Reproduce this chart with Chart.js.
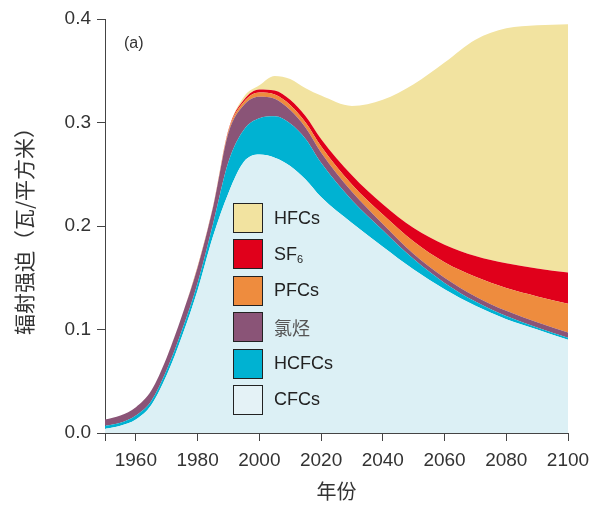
<!DOCTYPE html>
<html>
<head>
<meta charset="utf-8">
<script src="https://cdn.jsdelivr.net/npm/chart.js@4.4.1/dist/chart.umd.min.js"></script>
<style>
  body { margin: 0; background: #fff; }
  #wrap { position: relative; width: 592px; height: 507px; }
  .tag { position: absolute; left: 124px; top: 34px; font: 16px "Liberation Sans", Arial, sans-serif; color: #333; }
  .legend { position: absolute; left: 233px; top: 203px; font: 18px "Liberation Sans", Arial, sans-serif; color: #222; }
  .legend .row { display: flex; align-items: center; height: 30px; margin-bottom: 6.4px; }
  .legend .box { width: 28px; height: 28px; border: 1.2px solid #222; margin-right: 11px; }
  .legend .cjk { font-family: "Noto Sans CJK SC", sans-serif; color: #555; }
  .legend sub { font-size: 11px; vertical-align: -3px; }
</style>
</head>
<body>
<div id="wrap">
  <canvas id="chart"></canvas>
  <div class="tag">(a)</div>
  <div class="legend" id="legend"></div>
</div>
<script>
// years and stacked contributions (W/m2)
const years = [1950, 1955, 1960, 1965, 1970, 1975, 1980, 1985, 1990, 1995, 2000, 2005, 2010, 2015, 2020, 2030, 2040, 2050, 2060, 2070, 2080, 2090, 2100];
const cfcs = [0.004, 0.007, 0.013, 0.027, 0.056, 0.094, 0.138, 0.190, 0.232, 0.262, 0.269, 0.266, 0.258, 0.245, 0.228, 0.203, 0.180, 0.158, 0.139, 0.123, 0.110, 0.100, 0.090];
const hcfcs = [0.003, 0.003, 0.004, 0.004, 0.005, 0.006, 0.007, 0.012, 0.030, 0.031, 0.035, 0.040, 0.041, 0.039, 0.033, 0.022, 0.016, 0.010, 0.006, 0.004, 0.003, 0.002, 0.002];
const chlorocarbons = [0.006, 0.007, 0.008, 0.010, 0.012, 0.014, 0.015, 0.016, 0.028, 0.024, 0.021, 0.017, 0.013, 0.011, 0.010, 0.008, 0.006, 0.005, 0.005, 0.005, 0.005, 0.005, 0.005];
const pfcs = [0, 0, 0, 0, 0, 0, 0.001, 0.001, 0.002, 0.003, 0.004, 0.004, 0.005, 0.005, 0.006, 0.007, 0.009, 0.012, 0.015, 0.019, 0.022, 0.025, 0.028];
const sf6 = [0, 0, 0, 0, 0, 0, 0, 0, 0.001, 0.002, 0.003, 0.004, 0.005, 0.006, 0.007, 0.009, 0.010, 0.013, 0.017, 0.020, 0.024, 0.027, 0.030];
const hfcs = [0, 0, 0, 0, 0, 0, 0, 0, 0, 0.003, 0.004, 0.014, 0.020, 0.027, 0.042, 0.067, 0.101, 0.139, 0.176, 0.209, 0.227, 0.235, 0.240];

const xTicks = [1960, 1980, 2000, 2020, 2040, 2060, 2080, 2100];
const yTicks = [0.0, 0.1, 0.2, 0.3, 0.4];

// bottom to top
const series = [
  { label: 'CFCs', data: cfcs, color: '#dcf0f5', box: '#e4f2f6' },
  { label: 'HCFCs', data: hcfcs, color: '#00b2d2' },
  { label: '氯烃', data: chlorocarbons, color: '#8a5477', cjk: true },
  { label: 'PFCs', data: pfcs, color: '#ee8c3e' },
  { label: 'SF<sub>6</sub>', data: sf6, color: '#e0001b' },
  { label: 'HFCs', data: hfcs, color: '#f2e3a0' },
];

const font = { family: '"Liberation Sans", Arial, sans-serif', size: 19 };
const cjkFont = { family: '"Noto Sans CJK SC", sans-serif', size: 20 };

const axisStyle = {
  grid: { display: true, drawOnChartArea: false, drawTicks: true, tickLength: 8, color: '#444', lineWidth: 1 },
  border: { display: true, color: '#444', width: 1 },
};

new Chart(document.getElementById('chart'), {
  type: 'line',
  data: {
    datasets: series.map((s, i) => ({
      label: s.label,
      data: years.map((y, j) => ({ x: y, y: s.data[j] })),
      backgroundColor: s.color,
      borderColor: s.color,
      borderWidth: 0,
      pointRadius: 0,
      fill: i === 0 ? 'origin' : '-1',
      cubicInterpolationMode: 'monotone',
    })),
  },
  options: {
    responsive: true,
    maintainAspectRatio: false,
    animation: false,
    layout: { padding: { top: 19, right: 24, left: 0, bottom: 0 } },
    plugins: { legend: { display: false }, tooltip: { enabled: false } },
    scales: {
      x: {
        type: 'linear',
        min: 1950,
        max: 2100,
        ...axisStyle,
        afterBuildTicks: (scale) => { scale.ticks = [1950, ...xTicks].map(v => ({ value: v })); },
        afterFit: (scale) => { scale.height = 74; scale.paddingLeft = 0; scale.paddingRight = 0; },
        ticks: {
          autoSkip: false,
          maxRotation: 0,
          padding: 8,
          color: '#333',
          font: font,
          callback: (v) => xTicks.includes(v) ? String(v) : '',
        },
        title: { display: true, text: '年份', color: '#333', font: cjkFont, padding: { top: 0, bottom: 4 } },
      },
      y: {
        stacked: true,
        min: 0,
        max: 0.4,
        ...axisStyle,
        afterBuildTicks: (scale) => { scale.ticks = yTicks.map(v => ({ value: v })); },
        afterFit: (scale) => { scale.width = 105; scale.paddingTop = 0; scale.paddingBottom = 0; },
        ticks: {
          padding: 6,
          color: '#333',
          font: font,
          callback: (v) => v.toFixed(1),
        },
        title: { display: true, text: '辐射强迫（瓦/平方米）', color: '#333', font: { ...cjkFont, size: 21 }, padding: { top: 11, bottom: 0 } },
      },
    },
  },
});

// legend, top to bottom
const legend = document.getElementById('legend');
series.slice().reverse().forEach(s => {
  const row = document.createElement('div');
  row.className = 'row';
  row.innerHTML = '<div class="box" style="background:' + (s.box || s.color) + '"></div>' +
    '<span' + (s.cjk ? ' class="cjk"' : '') + '>' + s.label + '</span>';
  legend.appendChild(row);
});
</script>
</body>
</html>
